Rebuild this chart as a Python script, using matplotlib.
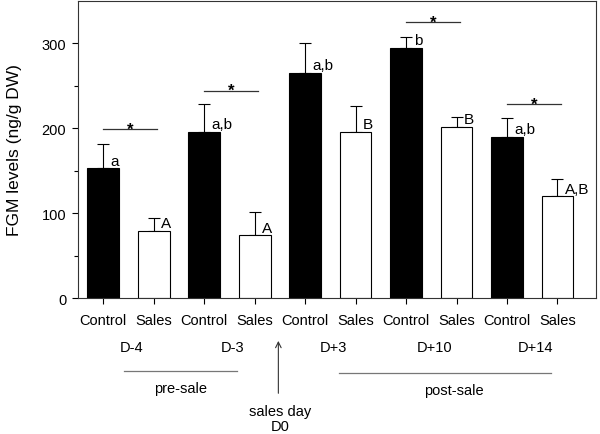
import numpy as np
import matplotlib
matplotlib.use("Agg")
import matplotlib.pyplot as plt

plt.rcParams['font.family'] = ['Liberation Sans', 'DejaVu Sans']

# data
days = ["D-4", "D-3", "D+3", "D+10", "D+14"]
control_mean = [153, 196, 265, 295, 190]
control_err = [28, 33, 36, 12, 22]
sales_mean = [79, 74, 196, 202, 120]
sales_err = [15, 27, 30, 11, 20]
control_letters = ["a", "a,b", "a,b", "b", "a,b"]
sales_letters = ["A", "A", "B", "B", "A,B"]
# significant pairs (day index) and height of the bracket line
sig_days = [0, 1, 3, 4]
sig_height = [199, 244, 325, 228]

fig = plt.figure(figsize=(6, 4.35), dpi=100)
ax = fig.add_axes([0.13, 0.3126, 0.863, 0.683])

n = len(days)
xc = np.arange(n) * 2.0
xs = xc + 1
w = 0.63

ax.bar(xc, control_mean, w, color='black', edgecolor='black', linewidth=0.8, zorder=2)
ax.bar(xs, sales_mean, w, color='white', edgecolor='black', linewidth=0.8, zorder=2)
ax.errorbar(xc, control_mean, yerr=[np.zeros(n), control_err], fmt='none',
            ecolor='black', elinewidth=0.8, capsize=4, capthick=0.8, zorder=1)
ax.errorbar(xs, sales_mean, yerr=[np.zeros(n), sales_err], fmt='none',
            ecolor='black', elinewidth=0.8, capsize=4, capthick=0.8, zorder=1)

for i in range(n):
    ax.text(xc[i] + 0.15, control_mean[i] + 9, control_letters[i], fontsize=11,
            ha='left', va='center')
    ax.text(xs[i] + 0.15, sales_mean[i] + 9, sales_letters[i], fontsize=11,
            ha='left', va='center')

for d, h in zip(sig_days, sig_height):
    ax.plot([xc[d], xs[d] + 0.07], [h, h], color='#333333', lw=0.9)
    ax.text((xc[d] + xs[d]) / 2 + 0.03, h - 5, "*", fontsize=12, fontweight='bold',
            ha='center', va='baseline')

ax.set_ylim(0, 350)
ax.set_xlim(-0.5, 9.76)
ax.set_yticks([0, 100, 200, 300])
ax.set_yticks([50, 150, 250], minor=True)
ax.set_xticks(np.arange(2 * n))
ax.set_xticklabels(["Control", "Sales"] * n)
ax.tick_params(axis='both', direction='out', length=4.5, width=0.8, labelsize=10.5)
ax.tick_params(axis='y', which='minor', length=3, width=0.8)
ax.tick_params(axis='x', pad=6)
ax.tick_params(axis='y', pad=4)
for s in ax.spines.values():
    s.set_linewidth(0.8)
    s.set_color('#333333')
ax.set_ylabel("FGM levels (ng/g DW)", fontsize=12.5, labelpad=14)

tr = ax.get_xaxis_transform()
for i, d in enumerate(days):
    ax.text(xc[i] + 0.5 + 0.06, -0.165, d, transform=tr, fontsize=10.5,
            ha='center', va='center')

ax.plot([0.42, 2.65], [-0.246, -0.246], transform=tr, color='#777777', lw=0.9, clip_on=False)
ax.plot([4.67, 8.87], [-0.2525, -0.2525], transform=tr, color='#777777', lw=0.9, clip_on=False)
ax.text(1.54, -0.303, "pre-sale", transform=tr, fontsize=10.5, ha='center', va='center')
ax.text(6.95, -0.31, "post-sale", transform=tr, fontsize=10.5, ha='center', va='center')
ax.annotate("", xy=(3.47, -0.135), xytext=(3.47, -0.33), xycoords=tr, textcoords=tr,
            arrowprops=dict(arrowstyle='->', color='#333333', lw=0.8))
ax.text(3.5, -0.38, "sales day", transform=tr, fontsize=10.5, ha='center', va='center')
ax.text(3.5, -0.431, "D0", transform=tr, fontsize=10.5, ha='center', va='center')

fig.savefig("out.png", dpi=100)
